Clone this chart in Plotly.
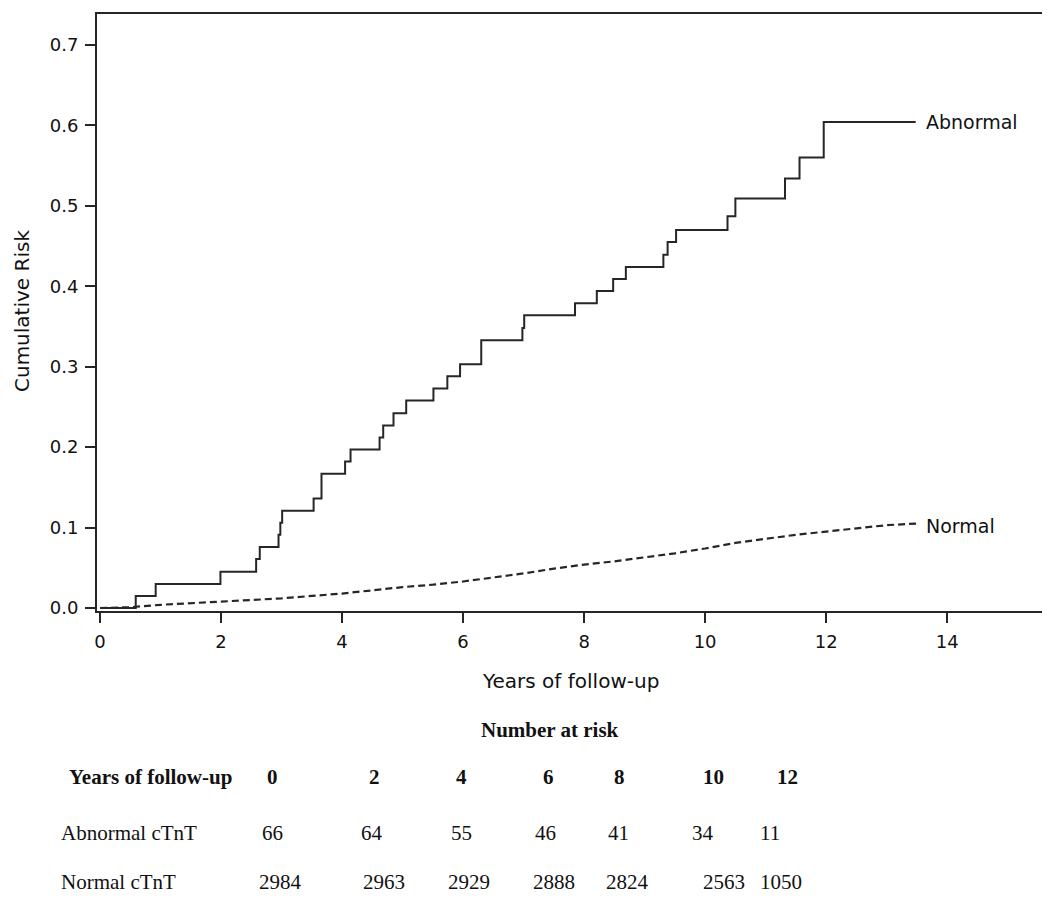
import plotly.graph_objects as go

# ---------------- data ----------------
abn_years = [0, 0.59, 0.92, 1.99, 2.58, 2.64, 2.95, 2.98, 3.01, 3.53, 3.66, 4.05, 4.14,
             4.62, 4.68, 4.85, 5.06, 5.51, 5.74, 5.95, 6.30, 6.98, 7.01, 7.85, 8.21,
             8.48, 8.69, 9.31, 9.38, 9.52, 10.37, 10.50, 11.32, 11.56, 11.96, 13.48]
abn_risk = [0, 0.015, 0.030, 0.045, 0.061, 0.076, 0.091, 0.106, 0.121, 0.136, 0.167,
            0.182, 0.197, 0.212, 0.227, 0.242, 0.258, 0.273, 0.288, 0.303, 0.333,
            0.348, 0.364, 0.379, 0.394, 0.409, 0.424, 0.439, 0.455, 0.470, 0.487,
            0.509, 0.534, 0.560, 0.604, 0.604]

norm_years = [0, 0.5, 1.0, 1.5, 2.0, 2.5, 3.0, 3.5, 4.0, 4.5, 5.0, 5.5, 6.0, 6.5,
              7.0, 7.5, 8.0, 8.5, 9.0, 9.5, 10.0, 10.5, 11.0, 11.5, 12.0, 12.5,
              13.0, 13.5]
norm_risk = [0, 0.001, 0.004, 0.006, 0.008, 0.010, 0.012, 0.015, 0.018, 0.022,
             0.026, 0.029, 0.033, 0.038, 0.043, 0.049, 0.054, 0.058, 0.063, 0.068,
             0.074, 0.081, 0.086, 0.091, 0.095, 0.099, 0.103, 0.105]

x_ticks = [0, 2, 4, 6, 8, 10, 12, 14]
y_ticks = [0.0, 0.1, 0.2, 0.3, 0.4, 0.5, 0.6, 0.7]

risk_years = ["0", "2", "4", "6", "8", "10", "12"]
risk_abnormal = ["66", "64", "55", "46", "41", "34", "11"]
risk_normal = ["2984", "2963", "2929", "2888", "2824", "2563", "1050"]

# ---------------- layout geometry ----------------
# the page body has an 8px default margin, so figure coords = page coords - 8
OFF = 8
W, H = 1050, 899
ML, MR, MT, MB = 97 - OFF, 11, 12 - OFF, 296
PW = W - ML - MR
PH = H - MT - MB


def px_to_paper(px, py):
    fx, fy = px - OFF, py - OFF
    return (fx - ML) / PW, (H - MB - fy) / PH


INK = "#262626"
SANS = "DejaVu Sans"
SERIF = "Liberation Serif"

fig = go.Figure()
fig.add_trace(go.Scatter(x=abn_years, y=abn_risk, mode="lines", line_shape="hv",
                         line=dict(color=INK, width=2), showlegend=False,
                         hoverinfo="skip"))
fig.add_trace(go.Scatter(x=norm_years, y=norm_risk, mode="lines",
                         line=dict(color=INK, width=2.2, dash="7px,4px"),
                         showlegend=False, hoverinfo="skip"))

ann = []
ann.append(dict(x=13.62, y=abn_risk[-1], xref="x", yref="y", text="Abnormal",
                showarrow=False, xanchor="left", yanchor="middle",
                font=dict(family=SANS, size=19, color="#111")))
ann.append(dict(x=13.62, y=0.102, xref="x", yref="y", text="Normal",
                showarrow=False, xanchor="left", yanchor="middle",
                font=dict(family=SANS, size=19, color="#111")))

# axis titles
xt = px_to_paper(570, 681)
ann.append(dict(x=xt[0], y=xt[1], xref="paper", yref="paper", text="Years of follow-up",
                showarrow=False, xanchor="center", yanchor="middle",
                font=dict(family=SANS, size=20, color="#111")))
yt = px_to_paper(9, 310)
ann.append(dict(x=yt[0], y=yt[1], xref="paper", yref="paper", text="Cumulative Risk",
                showarrow=False, xanchor="left", yanchor="middle", textangle=-90,
                borderpad=0,
                font=dict(family=SANS, size=20, color="#111")))

# number-at-risk table
hdr = px_to_paper(550, 730)
ann.append(dict(x=hdr[0], y=hdr[1], xref="paper", yref="paper", text="<b>Number at risk</b>",
                showarrow=False, xanchor="center", yanchor="middle",
                font=dict(family=SERIF, size=21, color="#111")))

rows = [
    ("<b>Years of follow-up</b>", 67, 778, risk_years, [272, 374, 461, 548, 619, 713, 787], True),
    ("Abnormal cTnT", 59, 834, risk_abnormal, [272, 372, 461, 545, 618, 703, 770], False),
    ("Normal cTnT", 59, 883, risk_normal, [280, 384, 469, 554, 627, 724, 781], False),
]
for label, lx, ry, vals, cols, bold in rows:
    p = px_to_paper(lx, ry)
    ann.append(dict(x=p[0], y=p[1], xref="paper", yref="paper", text=label,
                    showarrow=False, xanchor="left", yanchor="middle",
                    font=dict(family=SERIF, size=21, color="#111")))
    for v, cx in zip(vals, cols):
        q = px_to_paper(cx, ry)
        t = f"<b>{v}</b>" if bold else v
        ann.append(dict(x=q[0], y=q[1], xref="paper", yref="paper", text=t,
                        showarrow=False, xanchor="center", yanchor="middle",
                        font=dict(family=SERIF, size=21, color="#111")))

fig.update_layout(
    width=W, height=H,
    margin=dict(l=ML, r=MR, t=MT, b=MB),
    paper_bgcolor="white", plot_bgcolor="white",
    annotations=ann,
    xaxis=dict(range=[-0.05, 15.65], tickvals=x_ticks, ticktext=[str(v) for v in x_ticks],
               showgrid=False, zeroline=False, showline=True, mirror=True,
               linecolor=INK, linewidth=2, ticks="outside", ticklen=10, tickwidth=1.5,
               tickcolor=INK, ticklabelstandoff=3,
               tickfont=dict(family=SANS, size=18, color="#111")),
    yaxis=dict(range=[-0.0037, 0.7384], tickvals=y_ticks,
               ticktext=[f"{v:.1f}" for v in y_ticks],
               showgrid=False, zeroline=False, showline=True, mirror=True,
               linecolor=INK, linewidth=2, ticks="outside", ticklen=10, tickwidth=1.5,
               tickcolor=INK, ticklabelstandoff=3,
               tickfont=dict(family=SANS, size=18, color="#111")),
)

fig.write_html("out.html")
